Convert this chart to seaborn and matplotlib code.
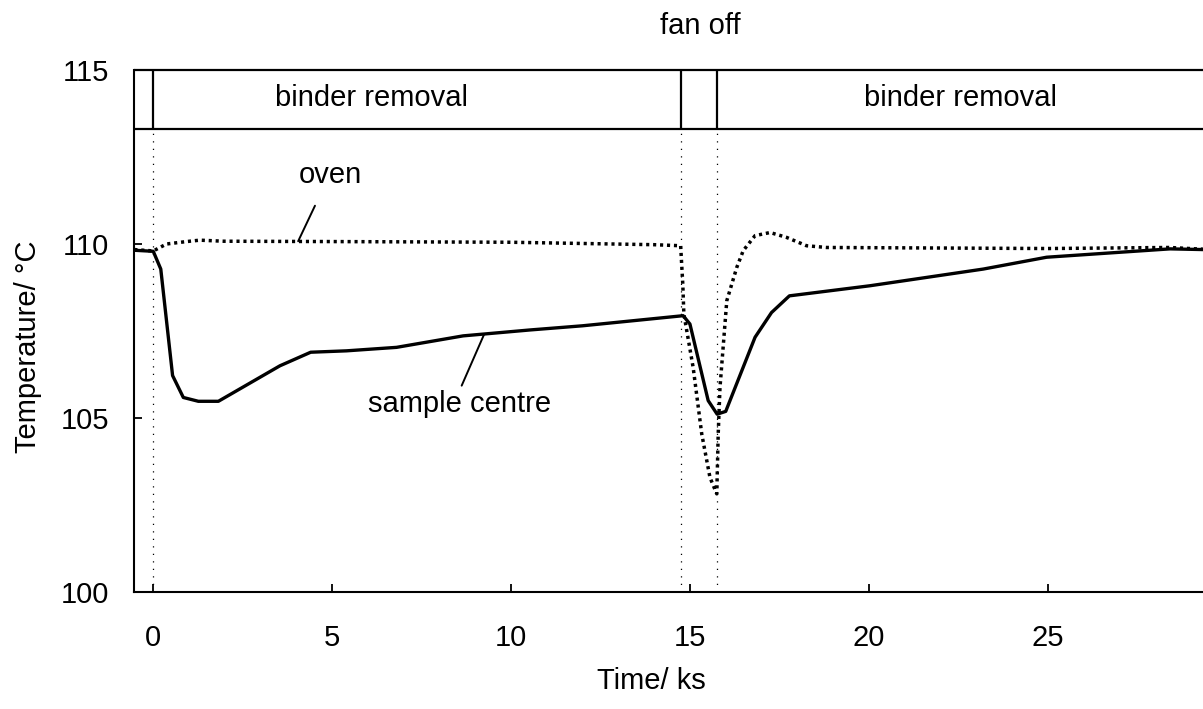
import matplotlib
matplotlib.use("Agg")
import matplotlib.pyplot as plt
import seaborn as sns
import pandas as pd

# ---- data ----
time_sample = [-0.53, 0.0, 0.21, 0.54, 0.84, 1.26, 1.82, 3.54, 4.40, 5.40, 6.80, 8.66,
               10.53, 12.0, 14.81, 15.0, 15.51, 15.76, 16.0, 16.82, 17.28, 17.78, 20.03,
               23.2, 24.97, 28.42, 29.34]
temp_sample = [109.82, 109.79, 109.28, 106.22, 105.59, 105.48, 105.48, 106.50, 106.89,
               106.93, 107.03, 107.36, 107.53, 107.65, 107.94, 107.70, 105.50, 105.11,
               105.19, 107.32, 108.03, 108.51, 108.80, 109.28, 109.62, 109.86, 109.84]

time_oven = [-0.53, 0.0, 0.37, 0.93, 1.3, 1.96, 5.0, 10.0, 14.0, 14.74, 14.8, 14.83,
             15.09, 15.33, 15.56, 15.75, 15.79, 15.84, 16.03, 16.31, 16.49, 16.82, 17.24,
             17.70, 18.26, 18.82, 25.0, 28.4, 29.34]
temp_oven = [109.84, 109.80, 110.00, 110.07, 110.11, 110.08, 110.07, 110.05, 109.98,
             109.95, 108.85, 107.99, 106.45, 104.54, 103.29, 102.82, 104.54, 105.88,
             108.37, 109.33, 109.81, 110.24, 110.33, 110.19, 109.95, 109.90, 109.87,
             109.90, 109.85]

event_times = [0.0, 14.74, 15.76]          # binder removal start, fan off, fan on
x_ticks = [0, 5, 10, 15, 20, 25]
y_ticks = [100, 105, 110, 115]

# ---- style ----
sns.set_style("ticks")
plt.rcParams["font.family"] = ["Liberation Sans", "DejaVu Sans"]
plt.rcParams["text.color"] = "black"
plt.rcParams["axes.labelcolor"] = "black"
plt.rcParams["xtick.color"] = "black"
plt.rcParams["ytick.color"] = "black"
FS = 21

fig = plt.figure(figsize=(12.03, 7.09), dpi=100)
ax = fig.add_axes([134.3 / 1203, 1 - 592 / 709, 1 - 134.3 / 1203, (592 - 70) / 709])

df_s = pd.DataFrame({"t": time_sample, "T": temp_sample})
df_o = pd.DataFrame({"t": time_oven, "T": temp_oven})
sns.lineplot(data=df_o, x="t", y="T", ax=ax, color="black", lw=2.5,
             linestyle=(0, (0.9, 1.1)), sort=False, estimator=None)
sns.lineplot(data=df_s, x="t", y="T", ax=ax, color="black", lw=2.4,
             sort=False, estimator=None)

xmin, xmax = -0.53, 29.34
ymin, ymax = 100, 115
box_bottom = 113.3
ax.set_xlim(xmin, xmax)
ax.set_ylim(ymin, ymax)

# event markers: dotted verticals and box dividers
for t in event_times:
    ax.vlines(t, ymin, box_bottom, colors="black", lw=0.9, linestyles=(0, (1, 5)))
    ax.vlines(t, box_bottom, ymax, colors="black", lw=1.6)
ax.hlines([box_bottom, ymax], xmin, xmax, colors="black", lw=1.6, clip_on=False)

ax.text(6.1, 113.97, "binder removal", fontsize=FS, ha="center", va="baseline")
ax.text(22.55, 113.97, "binder removal", fontsize=FS, ha="center", va="baseline")
ax.text(15.3, 116.04, "fan off", fontsize=FS, ha="center", va="baseline", clip_on=False)

ax.text(4.94, 111.76, "oven", fontsize=FS, ha="center", va="baseline")
ax.plot([4.52, 4.05], [111.10, 110.08], color="black", lw=1.4)
ax.text(8.57, 105.18, "sample centre", fontsize=FS, ha="center", va="baseline")
ax.plot([8.62, 9.25], [105.93, 107.41], color="black", lw=1.4)

ax.set_xticks(x_ticks)
ax.set_yticks(y_ticks)
ax.tick_params(direction="in", length=6, width=1.3, labelsize=FS, colors="black")
ax.tick_params(axis="x", pad=23)
ax.tick_params(axis="y", pad=18)

ax.set_xlabel("Time/ ks", fontsize=FS)
ax.xaxis.label.set_va("baseline")
ax.xaxis.set_label_coords((651.5 - 134.3) / 1068.7, (592 - 689) / 522)
ax.set_ylabel("Temperature/ °C", fontsize=FS)
ax.yaxis.label.set_va("center")
ax.yaxis.set_label_coords((28 - 134.3) / 1068.7, 0.47)

sns.despine(ax=ax, top=True, right=True)
for s in ("left", "bottom"):
    ax.spines[s].set_linewidth(1.5)
    ax.spines[s].set_color("black")

fig.savefig("out.png", dpi=100)
